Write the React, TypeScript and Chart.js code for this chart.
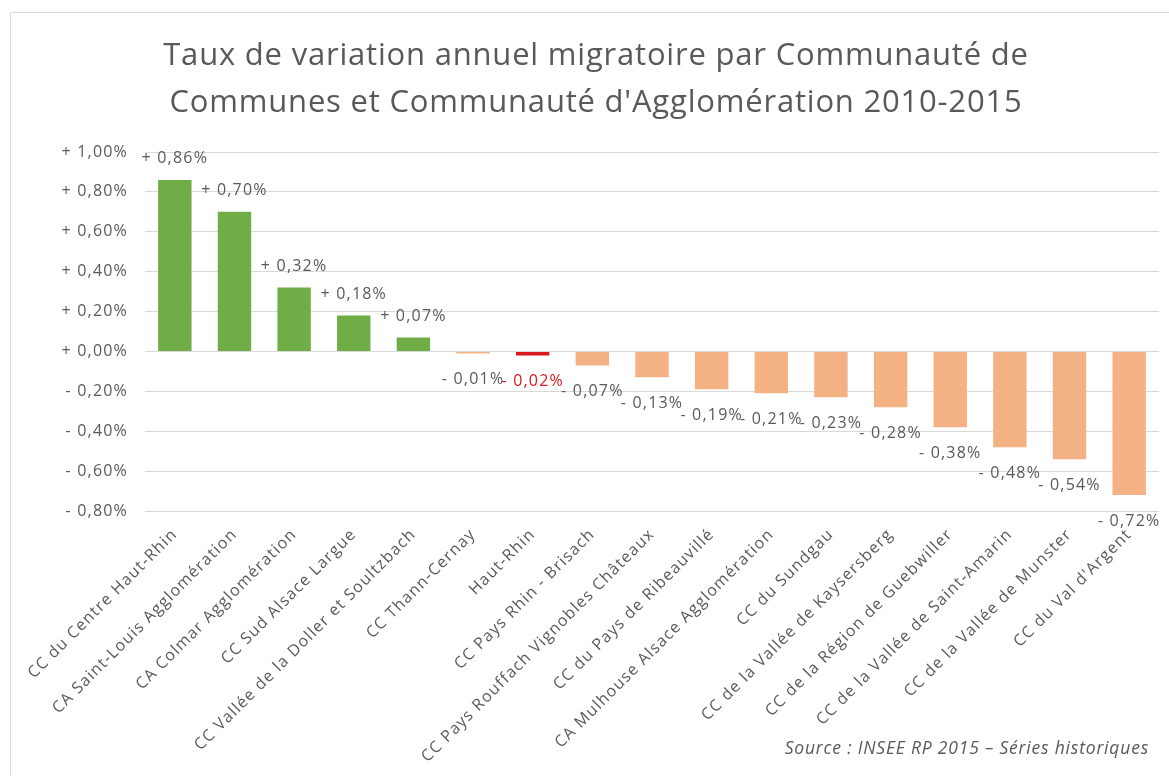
import React, { useEffect, useRef } from "react";
import { Chart, registerables } from "chart.js";

Chart.register(...registerables);

const categories = [
  "CC du Centre Haut-Rhin",
  "CA Saint-Louis Agglomération",
  "CA Colmar Agglomération",
  "CC Sud Alsace Largue",
  "CC Vallée de la Doller et Soultzbach",
  "CC Thann-Cernay",
  "Haut-Rhin",
  "CC Pays Rhin - Brisach",
  "CC Pays Rouffach Vignobles Châteaux",
  "CC du Pays de Ribeauvillé",
  "CA Mulhouse Alsace Agglomération",
  "CC du Sundgau",
  "CC de la Vallée de Kaysersberg",
  "CC de la Région de Guebwiller",
  "CC de la Vallée de Saint-Amarin",
  "CC de la Vallée de Munster",
  "CC du Val d'Argent",
];

const values = [0.86, 0.7, 0.32, 0.18, 0.07, -0.01, -0.02, -0.07, -0.13, -0.19, -0.21, -0.23, -0.28, -0.38, -0.48, -0.54, -0.72];

const highlight = "Haut-Rhin";

const yMin = -0.8;
const yMax = 1.0;
const yStep = 0.2;

const GREEN = "#70AD47";
const ORANGE = "#F4B183";
const RED = "#D7191C";
const TEXT = "#595959";
const GRID = "#D9D9D9";
const FONT = "'Open Sans', Lato, sans-serif";
const SPACING = "1.2px";

function fmt(v: number): string {
  const r = Math.round(v * 100) / 100;
  const sign = r < 0 ? "- " : "+ ";
  return sign + Math.abs(r).toFixed(2).replace(".", ",") + "%";
}

function colorFor(i: number): string {
  if (categories[i] === highlight) return RED;
  return values[i] >= 0 ? GREEN : ORANGE;
}

const spacingPlugin = {
  id: "letterSpacing",
  beforeUpdate(chart: any) {
    chart.ctx.letterSpacing = SPACING;
  },
  beforeDraw(chart: any) {
    chart.ctx.letterSpacing = SPACING;
  },
};

const labelPlugin = {
  id: "barValueLabels",
  afterDatasetsDraw(chart: any) {
    const ctx = chart.ctx;
    const meta = chart.getDatasetMeta(0);
    ctx.save();
    ctx.letterSpacing = SPACING;
    ctx.font = `16px ${FONT}`;
    ctx.textAlign = "center";
    ctx.textBaseline = "middle";
    meta.data.forEach((bar: any, i: number) => {
      const v = values[i];
      ctx.fillStyle = categories[i] === highlight ? RED : TEXT;
      const y = v >= 0 ? bar.y - 21 : bar.y + 26;
      ctx.fillText(fmt(v), bar.x, y);
    });
    ctx.restore();
  },
};

export default function App() {
  const ref = useRef<HTMLCanvasElement | null>(null);

  useEffect(() => {
    if (!ref.current) return;
    const chart = new Chart(ref.current, {
      type: "bar",
      data: {
        labels: categories,
        datasets: [
          {
            data: values,
            backgroundColor: values.map((_, i) => colorFor(i)),
            categoryPercentage: 1,
            barPercentage: 0.56,
          },
        ],
      },
      options: {
        animation: false,
        responsive: false,
        maintainAspectRatio: false,
        layout: { padding: { top: 152, right: 10, bottom: 0, left: 0 } },
        plugins: {
          legend: { display: false },
          tooltip: { enabled: false },
        },
        scales: {
          x: {
            grid: { display: false },
            border: { display: false },
            ticks: {
              color: TEXT,
              font: { family: FONT, size: 16 },
              minRotation: 45,
              maxRotation: 45,
              autoSkip: false,
              padding: 6,
            },
            afterFit(scale: any) {
              scale.height = 265;
            },
          },
          y: {
            min: yMin,
            max: yMax,
            grid: { color: GRID, drawTicks: false },
            border: { display: false },
            ticks: {
              stepSize: yStep,
              color: TEXT,
              font: { family: FONT, size: 16 },
              padding: 17,
              callback: (v: any) => fmt(Number(v)),
            },
            afterFit(scale: any) {
              scale.width = 145;
            },
          },
        },
      },
      plugins: [spacingPlugin, labelPlugin],
    });
    return () => chart.destroy();
  }, []);

  return (
    <div style={{ position: "absolute", left: 0, top: 0, width: 1169, height: 776, background: "#fff", overflow: "hidden" }}>
      <div
        style={{
          position: "absolute",
          left: 10,
          top: 12,
          width: 1200,
          height: 800,
          borderLeft: `1px solid ${GRID}`,
          borderTop: `1px solid ${GRID}`,
        }}
      />
      <canvas ref={ref} width={1169} height={776} style={{ position: "absolute", left: 0, top: 0 }} />
      <div
        style={{
          position: "absolute",
          left: 46,
          width: 1100,
          top: 30,
          textAlign: "center",
          fontFamily: FONT,
          fontSize: 31,
          letterSpacing: "0.8px",
          lineHeight: "47px",
          color: TEXT,
          whiteSpace: "nowrap",
        }}
      >
        Taux de variation annuel migratoire par Communauté de
        <br />
        Communes et Communauté d'Agglomération 2010-2015
      </div>
      <div
        style={{
          position: "absolute",
          right: 20,
          top: 735,
          fontFamily: FONT,
          fontStyle: "italic",
          fontSize: 17.5,
          letterSpacing: "0.8px",
          color: TEXT,
          whiteSpace: "nowrap",
        }}
      >
        Source : INSEE RP 2015 – Séries historiques
      </div>
    </div>
  );
}
